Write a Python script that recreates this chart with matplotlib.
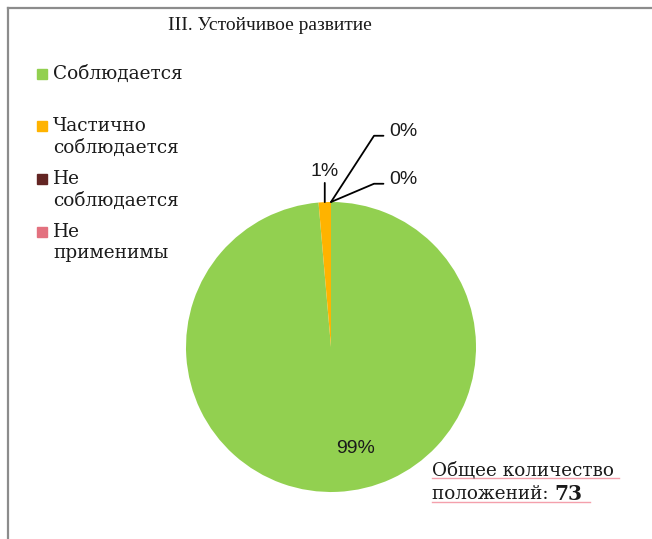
import numpy as np
import matplotlib
matplotlib.use("Agg")
import matplotlib.pyplot as plt
from matplotlib.patches import Rectangle
from matplotlib.lines import Line2D

# data
categories = ["Соблюдается", "Частично\nсоблюдается", "Не\nсоблюдается", "Не\nприменимы"]
counts = [72, 1, 0, 0]
pct_labels = ["99%", "1%", "0%", "0%"]
colors = ["#92D050", "#FFB300", "#632523", "#E3717F"]
title = "III. Устойчивое развитие"
total_text = ["Общее количество", "положений: ", "73"]

W, H = 652, 539
fig = plt.figure(figsize=(W / 100, H / 100), dpi=100)
fig.patch.set_facecolor("white")

SERIF = ["DejaVu Serif"]
SANS = ["Liberation Sans", "DejaVu Sans"]
TXT = "#1a1a1a"


def fx(px):
    return px / W


def fy(py):
    return 1 - py / H


# outer frame (only left/top visible)
fig.add_artist(Line2D([fx(8), fx(8)], [fy(8), 0], color="#8c8c8c", lw=1.6,
                      transform=fig.transFigure))
fig.add_artist(Line2D([fx(8), 1], [fy(8), fy(8)], color="#8c8c8c", lw=1.6,
                      transform=fig.transFigure))

fig.text(fx(270), fy(25), title, ha="center", va="center",
         family=["Liberation Serif"], fontsize=14, color=TXT)

# pie
cx, cy, r = 331, 347, 145
ax = fig.add_axes([fx(cx - r), fy(cy + r), 2 * r / W, 2 * r / H])
wedges, _ = ax.pie(counts, colors=colors, startangle=90, counterclock=False,
                   radius=1.0, wedgeprops=dict(linewidth=0))
ax.set_xlim(-1, 1)
ax.set_ylim(-1, 1)
ax.axis("off")

label_style = dict(family=SANS, fontsize=14, color=TXT)
# (dx, dy) text offsets in pixels and leader angle for the two zero slices
zero_offsets = {2: (58, 66, 57), 3: (58, 18, 23)}
for i, (w, lab) in enumerate(zip(wedges, pct_labels)):
    mid = np.deg2rad((w.theta1 + w.theta2) / 2)
    ex, ey = np.cos(mid), np.sin(mid)
    if i == 0:
        ax.text(0.7 * ex + 0.14, 0.7 * ey, lab, ha="center", va="center",
                **label_style)
    elif i == 1:
        ax.annotate(lab, xy=(ex, ey), xytext=(0, 22), textcoords="offset pixels",
                    ha="center", va="bottom",
                    arrowprops=dict(arrowstyle="-", color="black", lw=1.3,
                                    shrinkA=0, shrinkB=0),
                    **label_style)
    else:
        dx, dy, ang = zero_offsets[i]
        ax.annotate(lab, xy=(ex, ey), xytext=(dx, dy), textcoords="offset pixels",
                    ha="left", va="baseline",
                    arrowprops=dict(arrowstyle="-", color="black", lw=1.3,
                                    shrinkA=2, shrinkB=0, relpos=(0, 0.25),
                                    connectionstyle=f"angle,angleA=0,angleB={ang},rad=0"),
                    **label_style)

# legend drawn by hand
leg_y = [74, 126, 179, 232]
for y, cat, col in zip(leg_y, categories, colors):
    fig.add_artist(Rectangle((fx(37), fy(y + 5)), 10 / W, 10 / H, color=col,
                             transform=fig.transFigure))
    fig.text(fx(53), fy(y - 9), cat, ha="left", va="top", family=SERIF,
             fontsize=13.3, color=TXT, linespacing=1.25)

# total count note
fig.text(fx(432), fy(470), total_text[0], ha="left", va="center",
         family=SERIF, fontsize=13.2, color=TXT)
t2 = fig.text(fx(432), fy(494), total_text[1], ha="left", va="center",
              family=SERIF, fontsize=13.2, color=TXT)
fig.canvas.draw()
bb = t2.get_window_extent()
fig.text(bb.x1 / W, fy(494), total_text[2], ha="left", va="center",
         family=SERIF, fontsize=14.5, fontweight="bold", color=TXT)
# faint spell-check underlines
fig.add_artist(Line2D([fx(432), fx(619)], [fy(478), fy(478)], color="#f4a0ac",
                      lw=1.0, transform=fig.transFigure))
fig.add_artist(Line2D([fx(432), fx(590)], [fy(502), fy(502)], color="#f4a0ac",
                      lw=1.0, transform=fig.transFigure))

fig.savefig("out.png", dpi=100)
